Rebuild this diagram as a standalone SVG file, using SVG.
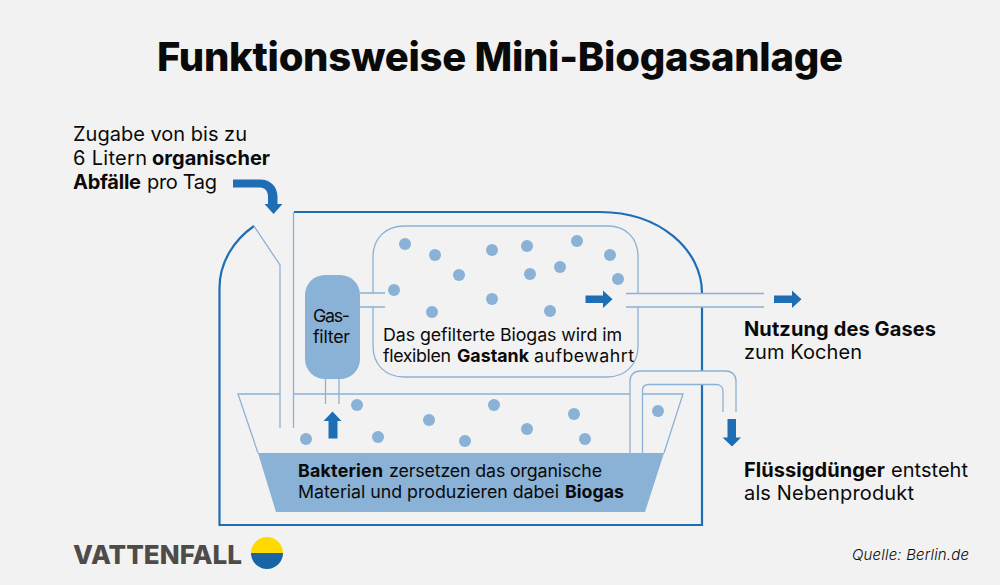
<svg xmlns="http://www.w3.org/2000/svg" width="1000" height="585" viewBox="0 0 1000 585">
<style>
text{font-family:"Inter","Liberation Sans",sans-serif;fill:#0a0a0a;font-size:20px}
.s{font-size:17.800px}
.b{font-weight:700}
.lt{fill:none;stroke:#8ab1d6;stroke-width:1.3}
.dk{fill:none;stroke:#1f6db5;stroke-width:2.2}
.dot{fill:#8ab1d6}
.ar{fill:#1f6db5}
.fill{fill:#8ab1d6}
</style>
<rect width="1000" height="585" fill="#f2f2f2"/>
<text x="157" y="71" textLength="686" style="font-size:40px;font-weight:800">Funktionsweise Mini-Biogasanlage</text>
<g id="input-label">
<text x="73" y="141" textLength="174">Zugabe von bis zu</text>
<text y="165"><tspan x="73" textLength="74">6 Litern</tspan> <tspan x="152" textLength="118" class="b">organischer</tspan></text>
<text y="189"><tspan x="73" textLength="68" class="b">Abfälle</tspan> <tspan x="147" textLength="70">pro Tag</tspan></text>
</g>
<g id="housing">
<path class="dk" d="M294 212H600C660 212 702 250 702 293M702 307V371M702 384.500V525H219.500V288C219.500 262 234 240 254 226"/>
<path class="lt" d="M254 226L280 265V428M293.500 212V428"/>
</g>
<g id="gastank">
<path class="lt" d="M373 293V257C373 238 386 226 404 226H608C626 226 638 238 638 257V293M638 307V346C638 365 625 377 607 377H404C386 377 373 365 373 346V307"/>
<path class="lt" d="M360 293H385M360 307H385M626 293.500H764M626 307H764"/>
<circle class="dot" cx="405" cy="244" r="6"/><circle class="dot" cx="435" cy="255" r="6"/><circle class="dot" cx="492" cy="250" r="6"/><circle class="dot" cx="527" cy="246" r="6"/><circle class="dot" cx="577" cy="241" r="6"/><circle class="dot" cx="610" cy="255" r="6"/><circle class="dot" cx="618" cy="279" r="6"/><circle class="dot" cx="560" cy="267" r="6"/><circle class="dot" cx="530" cy="274" r="6"/><circle class="dot" cx="459" cy="275" r="6"/><circle class="dot" cx="394" cy="290" r="6"/><circle class="dot" cx="432" cy="312" r="6"/><circle class="dot" cx="492" cy="299" r="6"/><circle class="dot" cx="550" cy="311" r="6"/>
<text x="383" y="341" class="s" textLength="239">Das gefilterte Biogas wird im</text>
<text y="362" class="s"><tspan x="383" textLength="68">flexiblen</tspan> <tspan x="457" textLength="72" class="b">Gastank</tspan> <tspan x="534" textLength="100">aufbewahrt</tspan></text>
</g>
<g id="gasfilter">
<rect class="fill" x="305" y="275" width="55" height="104" rx="20"/>
<text x="313" y="322" class="s" textLength="37">Gas-</text>
<text x="313" y="343" class="s" textLength="37">filter</text>
<path class="lt" d="M325.500 379V404M339 379V404"/>
</g>
<g id="vat">
<path class="fill" d="M258 453H664L645 512H276Z"/>
<path class="lt" d="M258 453L238 394H280M294 394H630M643 394H683L664 453"/>
<circle class="dot" cx="357" cy="405" r="6"/><circle class="dot" cx="429" cy="420" r="6"/><circle class="dot" cx="494" cy="405" r="6"/><circle class="dot" cx="574" cy="414" r="6"/><circle class="dot" cx="658" cy="411" r="6"/><circle class="dot" cx="306" cy="439" r="6"/><circle class="dot" cx="378" cy="437" r="6"/><circle class="dot" cx="465" cy="441" r="6"/><circle class="dot" cx="527" cy="429" r="6"/><circle class="dot" cx="585" cy="439" r="6"/>
<text y="476.500" class="s"><tspan x="298" textLength="85" class="b">Bakterien</tspan> <tspan x="389" textLength="213">zersetzen das organische</tspan></text>
<text y="498" class="s"><tspan x="298" textLength="261">Material und produzieren dabei</tspan> <tspan x="565" textLength="59" class="b">Biogas</tspan></text>
</g>
<g id="connectors">
<path class="lt" d="M630 453V381C630 375 634 371 640 371H726C732 371 736 375 736 381V412"/>
<path class="lt" d="M642.500 453V390C642.500 386 645 384.500 649 384.500H716C720 384.500 723 387 723 391V412"/>
<path class="ar" d="M233 179.500H260C271 179.500 277.500 187 277.500 197V204H282.500L273.500 214L264.500 204H268V197C268 191 265 187.500 260 187.500H233Z"/>
<path class="ar" d="M328.500 438.500V421H323.500L332.500 411.500L341.500 421H337.500V438.500Z"/>
<path class="ar" d="M585.500 295.500H603V290.500L612.500 299.200L603 308V303H585.500Z"/>
<path class="ar" d="M774 295.500H792V290.500L801.500 299.200L792 308V303H774Z"/>
<path class="ar" d="M727.500 419H736V437.500H741L732 446.500L722.500 437.500H727.500Z"/>
</g>
<g id="output-gas">
<text x="744" y="335.500" class="b" textLength="192">Nutzung des Gases</text>
<text x="744" y="359" textLength="118">zum Kochen</text>
</g>
<g id="output-fertilizer">
<text y="477"><tspan x="744" textLength="141" class="b">Flüssigdünger</tspan> <tspan x="891" textLength="77">entsteht</tspan></text>
<text x="744" y="500" textLength="170">als Nebenprodukt</text>
</g>
<g id="logo">
<text x="73" y="564" textLength="169" style="font-size:26px;font-weight:800;fill:#4e4b48">VATTENFALL</text>
<path d="M251 553A16 16 0 0 1 283 553Z" fill="#ffda00"/>
<path d="M251 553A16 16 0 0 0 283 553Z" fill="#1964a3"/>
</g>
<text x="852" y="560" textLength="117" style="font-size:15px;font-style:italic;font-weight:300">Quelle: Berlin.de</text>
</svg>
